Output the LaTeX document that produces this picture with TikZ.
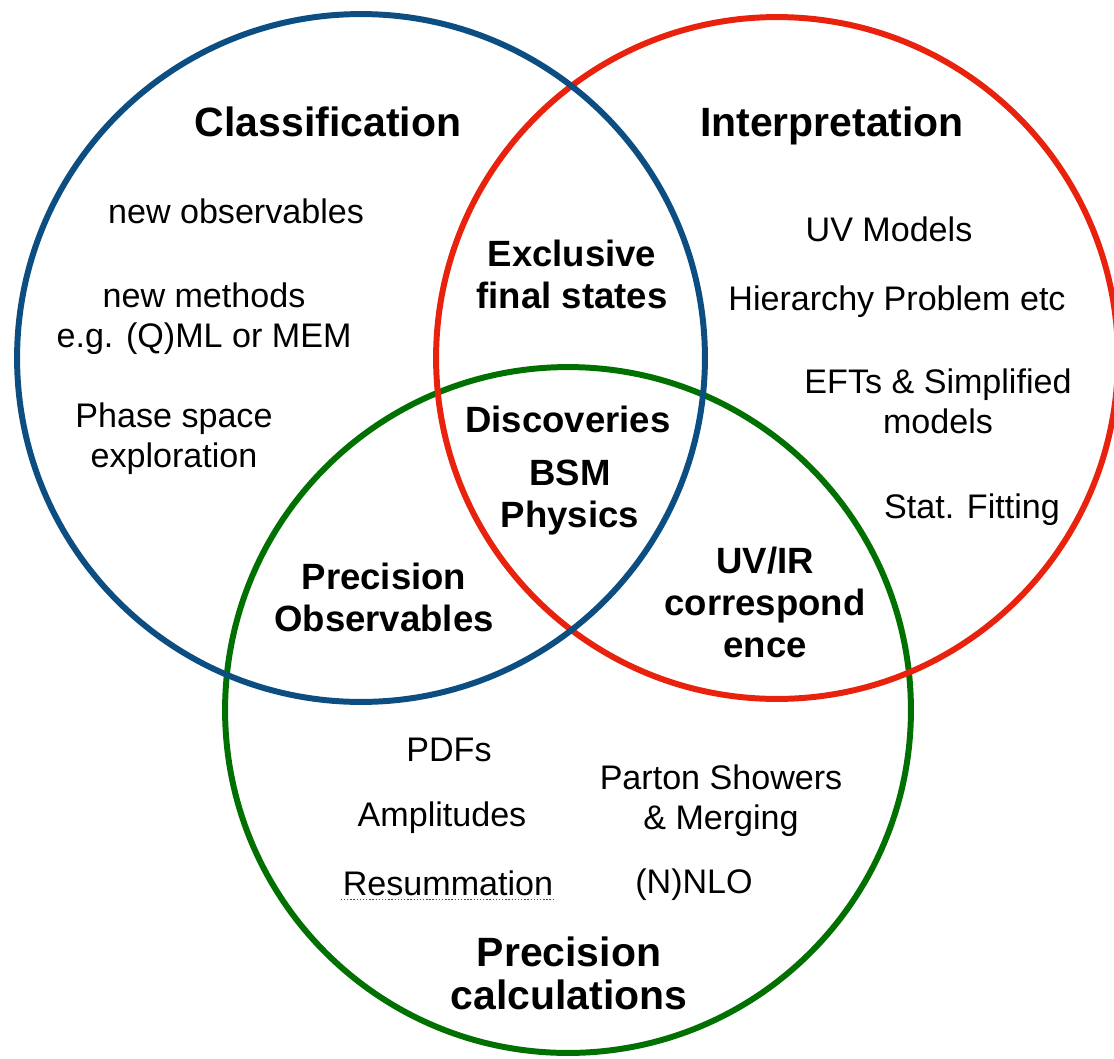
\documentclass[tikz,border=0pt]{standalone}
\usepackage{fontspec}
\setmainfont{Liberation Sans}
\usepackage{xcolor}
\usetikzlibrary{positioning}
\definecolor{vennblue}{RGB}{12,78,130}
\definecolor{vennred}{RGB}{232,34,12}
\definecolor{venngreen}{RGB}{0,112,0}

\begin{document}
\begin{tikzpicture}[
    x=0.02cm, y=-0.02cm,
    set_circle/.style={circle, line width=3.4pt, inner sep=0pt},
    title_node/.style={font=\fontsize{23.3}{24.5}\selectfont\bfseries, align=center, inner sep=1pt},
    region_node/.style={font=\fontsize{20.8}{23.9}\selectfont\bfseries, align=center, inner sep=1pt},
    item_node/.style={font=\fontsize{19.4}{22.8}\selectfont, align=center, inner sep=1pt},
    spell_mark/.style={draw=red, line width=0.8pt, densely dotted}
]
\useasboundingbox (0,0) rectangle (1114,1058);

% The three sets
\node[set_circle, draw=venngreen, minimum size=13.72cm] (calc) at (568,710) {};
\node[set_circle, draw=vennred, minimum size=13.64cm] (interp) at (777,358) {};
\node[set_circle, draw=vennblue, minimum size=13.76cm] (class) at (361,358) {};

% Classification set
\node[title_node] (classT) at (328,122) {Classification};
\node[item_node] (newobs) at (236,211) {new observables};
\node[item_node] (newmeth) at (204,319) {new methods\\e.g. (Q)ML or MEM};
\node[item_node] (phase) at (174,439) {Phase space\\exploration};

% Interpretation set
\node[title_node] (interpT) at (832,126) {Interpretation};
\node[item_node] (uvmod) at (889,229) {UV Models};
\node[item_node] (hier) at (897,302) {Hierarchy Problem etc};
\node[item_node] (efts) at (938,401) {EFTs \& Simplified\\models};
\node[item_node] (stat) at (972,510) {Stat. Fitting};

% Overlaps
\node[region_node] (excl) at (572,274) {Exclusive\\final states};
\node[region_node] (disc) at (568,419) {Discoveries};
\node[region_node] (bsm) at (570,498) {BSM\\Physics};
\node[region_node] (precobs) at (384,597) {Precision\\Observables};
\node[region_node] (uvir) at (765,602) {UV/IR\\correspond\\ence};

% Precision calculations set
\node[item_node] (pdfs) at (449,750) {PDFs};
\node[item_node] (ampl) at (442,818) {Amplitudes};
\node[item_node] (resum) at (448,883) {Resummation};
\node[item_node] (parton) at (721,801) {Parton Showers\\\& Merging};
\node[item_node] (nnlo) at (694,885) {(N)NLO};
\node[title_node] (calcT) at (569,973) {Precision\\calculations};

\draw[spell_mark] ([yshift=-1pt]resum.south west) -- ([yshift=-1pt]resum.south east);

\end{tikzpicture}
\end{document}
